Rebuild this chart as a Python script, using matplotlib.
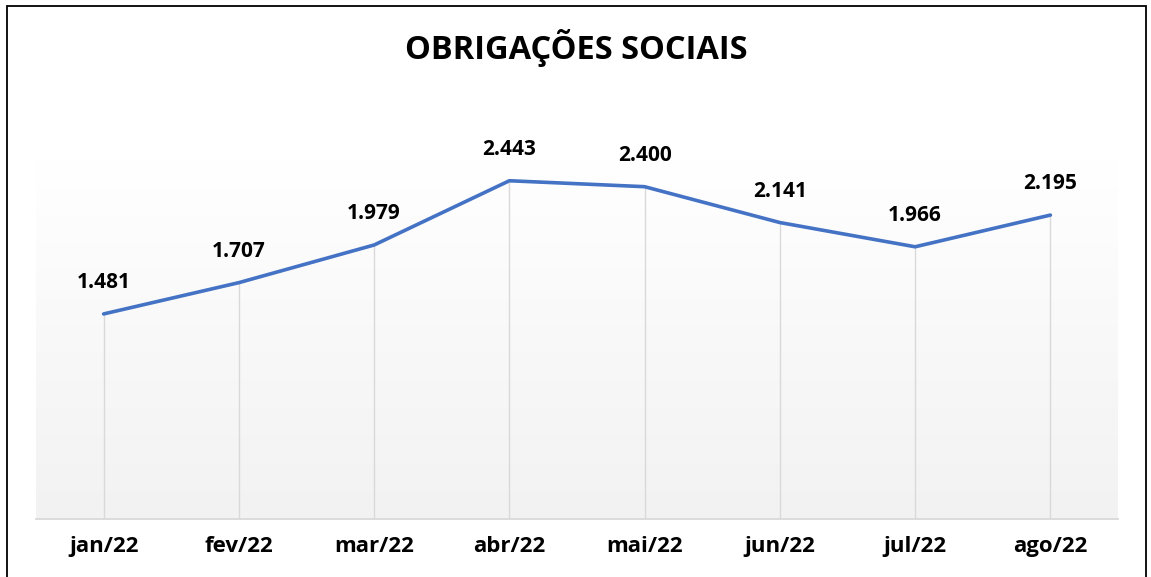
import matplotlib
matplotlib.use("Agg")
import matplotlib.pyplot as plt
import numpy as np
from matplotlib.patches import Rectangle
from matplotlib.colors import LinearSegmentedColormap

categories = ["jan/22", "fev/22", "mar/22", "abr/22", "mai/22", "jun/22", "jul/22", "ago/22"]
values = [1481, 1707, 1979, 2443, 2400, 2141, 1966, 2195]
title = "OBRIGAÇÕES SOCIAIS"

plt.rcParams['font.family'] = ['Open Sans', 'DejaVu Sans']

W, H = 1151, 577
fig = plt.figure(figsize=(W / 100, H / 100), dpi=100)
fig.patch.set_facecolor("white")

# chart border
fig.add_artist(Rectangle((7.5 / W, -0.05), (1146 - 7.5) / W, 1 - 5.5 / H + 0.05,
                         transform=fig.transFigure, fill=False, edgecolor="#000000", lw=1.3))

ax = fig.add_axes([36 / W, 1 - 519 / H, (1118 - 36) / W, (519 - 159) / H])
x = np.arange(len(categories))
ax.set_xlim(-0.5, len(categories) - 0.5)
ax.set_ylim(0, 2600)

# gradient background: white at top, light gray at bottom
grad = np.linspace(0, 1, 256).reshape(-1, 1)
cmap = LinearSegmentedColormap.from_list("g", ["#f2f2f2", "#ffffff"])
ax.imshow(grad, extent=[-0.5, len(categories) - 0.5, 0, 2600], aspect="auto",
          cmap=cmap, origin="lower", zorder=0)

# drop lines
ax.vlines(x, 0, values, colors="#d9d9d9", lw=1.0, zorder=1)

ax.plot(x, values, color="#4472C4", lw=2.6, solid_capstyle="round", zorder=3)

for xi, v in zip(x, values):
    lbl = f"{v:,}".replace(",", ".")
    ax.annotate(lbl, (xi, v), xytext=(0, 22.5), textcoords="offset points",
                ha="center", va="center", fontsize=15, fontweight="bold", color="#000000")

for s in ["left", "right", "top"]:
    ax.spines[s].set_visible(False)
ax.spines["bottom"].set_color("#d9d9d9")
ax.spines["bottom"].set_linewidth(1.3)
ax.set_yticks([])
ax.set_xticks(x)
ax.set_xticklabels(categories, fontsize=16, fontweight="bold", color="#000000")
ax.tick_params(axis="x", length=0, pad=12)

fig.text(576 / W, 1 - 48 / H, title, ha="center", va="center",
         fontsize=23.5, fontweight="bold", color="#000000")

fig.savefig("out.png", dpi=100)
